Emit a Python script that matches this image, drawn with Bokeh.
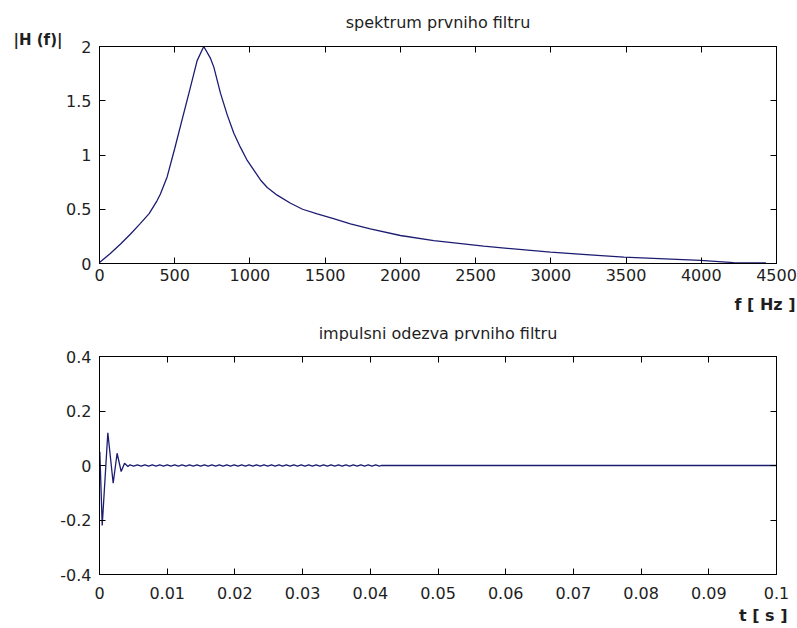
from bokeh.plotting import figure
from bokeh.models import Range1d, LinearAxis, FixedTicker, Title
from bokeh.layouts import column
from bokeh.embed import file_html
from bokeh.resources import INLINE

# ---------------- data ----------------
# spectrum of the first filter |H(f)|
freq_hz = [0, 70, 140, 205, 272, 330, 383, 405, 450, 500, 550, 600, 649, 693,
           738, 760, 804, 849, 893, 937, 982, 1026, 1070, 1115, 1181, 1270, 1350, 1447,
           1550, 1668, 1800, 2000, 2222, 2554, 2998, 3485, 3995, 4214, 4430]
mag_h = [0.01, 0.09, 0.18, 0.27, 0.37, 0.46, 0.58, 0.64, 0.80, 1.06, 1.33, 1.60, 1.87, 2.0,
         1.89, 1.81, 1.57, 1.37, 1.20, 1.07, 0.95, 0.86, 0.77, 0.70, 0.63, 0.555, 0.50, 0.458,
         0.415, 0.366, 0.32, 0.258, 0.21, 0.16, 0.104, 0.058, 0.028, 0.008, 0.005]

# impulse response of the first filter: initial ringing
imp_t = [0.0, 0.00005, 0.0004, 0.00123, 0.00202, 0.0026, 0.0032, 0.0037, 0.0042]
imp_v = [0.0, 0.05, -0.22, 0.12, -0.065, 0.045, -0.022, 0.008, -0.004]
# small residual ripple (uniformly sampled)
ripple_start = 0.0045
ripple_step = 0.00055
ripple_v = [0.0025, -0.0025, 0.0025, -0.0025, 0.0025, -0.0025, 0.0025, -0.0025, 0.0025, -0.0025,
            0.0025, -0.0025, 0.0025, -0.0025, 0.0025, -0.0025, 0.0025, -0.0025, 0.0025, -0.0025,
            0.0025, -0.0025, 0.0025, -0.0025, 0.0025, -0.0025, 0.0025, -0.0025, 0.0025, -0.0025,
            0.0025, -0.0025, 0.0025, -0.0025, 0.0025, -0.0025, 0.0025, -0.0025, 0.0025, -0.0025,
            0.0025, -0.0025, 0.0025, -0.0025, 0.0025, -0.0025, 0.0025, -0.0025, 0.0025, -0.0025,
            0.0025, -0.0025, 0.0025, -0.0025, 0.0025, -0.0025, 0.0025, -0.0025, 0.0025, -0.0025,
            0.0025, -0.0025, 0.0025, -0.0025, 0.0025, -0.0025, 0.0025, -0.0025]
tail_t = [0.0416, 0.1]
tail_v = [0.0, 0.0]

# ticks
top_xticks = [0, 500, 1000, 1500, 2000, 2500, 3000, 3500, 4000, 4500]
top_xlabels = ["0", "500", "1000", "1500", "2000", "2500", "3000", "3500", "4000", "4500"]
top_yticks = [0, 0.5, 1, 1.5, 2]
top_ylabels = ["0", "0.5", "1", "1.5", "2"]
bot_xticks = [0, 0.01, 0.02, 0.03, 0.04, 0.05, 0.06, 0.07, 0.08, 0.09, 0.1]
bot_xlabels = ["0", "0.01", "0.02", "0.03", "0.04", "0.05", "0.06", "0.07", "0.08", "0.09", "0.1"]
bot_yticks = [-0.4, -0.2, 0, 0.2, 0.4]
bot_ylabels = ["-0.4", "-0.2", "0", "0.2", "0.4"]

title_top = "spektrum prvniho filtru"
title_bot = "impulsni odezva prvniho filtru"
ylabel_top = "|H (f)|"
xlabel_top = "f [ Hz ]"
xlabel_bot = "t [ s ]"

# ---------------- styling ----------------
LINE = "#1c1c72"
TXT = "#1e1e1e"
FONT = "DejaVu Sans"
TICK_FS = "16px"


def style(p, xt, xl, yt, yl, x_standoff):
    xax = p.below[0]
    yax = p.left[0]
    xax.ticker = FixedTicker(ticks=xt)
    yax.ticker = FixedTicker(ticks=yt)
    xax.major_label_overrides = dict(zip(xt, xl))
    yax.major_label_overrides = dict(zip(yt, yl))
    for ax in (xax, yax):
        ax.major_tick_in = 6
        ax.major_tick_out = 0
        ax.minor_tick_in = 0
        ax.minor_tick_out = 0
        ax.axis_line_color = "black"
        ax.major_tick_line_color = "black"
        ax.major_label_text_font = FONT
        ax.major_label_text_font_size = TICK_FS
        ax.major_label_text_color = TXT
    yax.major_label_standoff = 8
    xax.major_label_standoff = x_standoff
    for side, ticks in (("above", xt), ("right", yt)):
        ax = LinearAxis(ticker=FixedTicker(ticks=ticks), major_tick_in=6, major_tick_out=0,
                        minor_tick_in=0, minor_tick_out=0, axis_line_color="black",
                        major_label_text_color=None, major_label_text_font_size="1px",
                        major_label_standoff=0)
        p.add_layout(ax, side)
    p.xgrid.visible = False
    p.ygrid.visible = False
    p.outline_line_color = "black"
    p.background_fill_color = "white"
    p.border_fill_color = "white"


def text_title(text, align, offset, size, standoff, bold):
    return Title(text=text, align=align, offset=offset, text_font=FONT, text_font_size=size,
                 text_font_style="bold" if bold else "normal", text_color=TXT,
                 standoff=standoff)


# ---------------- top: spectrum ----------------
p1 = figure(frame_width=677, frame_height=217, min_border_left=99, min_border_right=21,
            min_border_top=46, min_border_bottom=77, x_range=Range1d(0, 4500),
            y_range=Range1d(0, 2), toolbar_location=None, output_backend="svg",
            title=title_top)
style(p1, top_xticks, top_xlabels, top_yticks, top_ylabels, 5)
p1.title.align = "center"
p1.title.text_font = FONT
p1.title.text_font_size = "16px"
p1.title.text_font_style = "normal"
p1.title.text_color = TXT
p1.title.standoff = -2
p1.line(freq_hz, mag_h, line_color=LINE, line_width=1.3)
p1.add_layout(text_title(ylabel_top, "left", -86, "15px", -4, True), "above")
p1.add_layout(text_title(xlabel_top, "right", -19, "16px", 18, True), "below")
# caption of the lower panel (sits directly above it)
p1.add_layout(text_title(title_bot, "center", 0, "16px", -2, False), "below")

# ---------------- bottom: impulse response ----------------
ripple_t = [ripple_start + i * ripple_step for i in range(len(ripple_v))]
t_all = imp_t + ripple_t + tail_t
v_all = imp_v + ripple_v + tail_v

p2 = figure(frame_width=677, frame_height=218, min_border_left=99, min_border_right=21,
            min_border_top=15, min_border_bottom=54, x_range=Range1d(0, 0.1),
            y_range=Range1d(-0.4, 0.4), toolbar_location=None, output_backend="svg",
            title_location=None)
style(p2, bot_xticks, bot_xlabels, bot_yticks, bot_ylabels, 12)
p2.line(t_all, v_all, line_color=LINE, line_width=1.3)
p2.add_layout(text_title(xlabel_bot, "right", -11, "16px", 5, True), "below")

layout = column(p1, p2, spacing=0)
open("out.html", "w").write(file_html(layout, INLINE))
